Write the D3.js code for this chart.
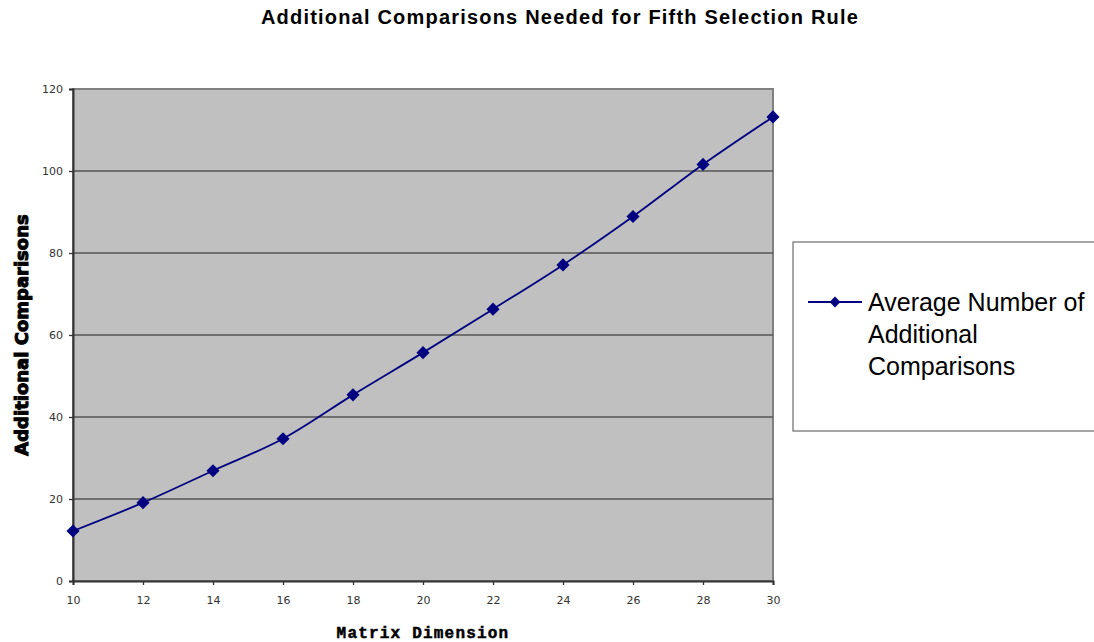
<!DOCTYPE html>
<html>
<head>
<meta charset="utf-8">
<script src="https://cdn.jsdelivr.net/npm/d3@7"></script>
<style>
  html, body { margin: 0; padding: 0; background: #fff; }
  svg { display: block; }
</style>
</head>
<body>
<svg id="chart" width="1094" height="642"></svg>
<script>
// Matrix dimension on x, average number of extra comparisons on y
const dimensions = [10, 12, 14, 16, 18, 20, 22, 24, 26, 28, 30];
const avgComparisons = [12.2, 19.1, 26.9, 34.7, 45.4, 55.7, 66.3, 77.1, 88.9, 101.6, 113.2];
const xTicks = [10, 12, 14, 16, 18, 20, 22, 24, 26, 28, 30];
const yTicks = [0, 20, 40, 60, 80, 100, 120];
const seriesName = ["Average Number of", "Additional", "Comparisons"];

const svg = d3.select("#chart");
const plot = { left: 73, right: 773, top: 89, bottom: 581 };

const x = d3.scaleLinear().domain([10, 30]).range([plot.left, plot.right]);
const y = d3.scaleLinear().domain([0, 120]).range([plot.bottom, plot.top]);

// Title
svg.append("text")
  .attr("x", 560).attr("y", 24)
  .attr("text-anchor", "middle")
  .style("font-family", "Liberation Sans, Arial, sans-serif")
  .style("font-weight", "bold")
  .style("font-size", "20px")
  .style("letter-spacing", "1.2px")
  .text("Additional Comparisons Needed for Fifth Selection Rule");

// Plot background
svg.append("rect")
  .attr("x", plot.left).attr("y", plot.top)
  .attr("width", plot.right - plot.left).attr("height", plot.bottom - plot.top)
  .attr("fill", "#c0c0c0")
  .attr("stroke", "#808080").attr("stroke-width", 2);

// Horizontal gridlines
svg.append("g").selectAll("line")
  .data(yTicks.filter(v => v > 0 && v < 120))
  .join("line")
  .attr("x1", plot.left).attr("x2", plot.right)
  .attr("y1", d => y(d)).attr("y2", d => y(d))
  .attr("stroke", "#555").attr("stroke-width", 1.3);

// Axes
const yAxis = svg.append("g")
  .attr("transform", `translate(${plot.left},0)`)
  .call(d3.axisLeft(y).tickValues(yTicks).tickSize(4).tickPadding(6));
const xAxis = svg.append("g")
  .attr("transform", `translate(0,${plot.bottom})`)
  .call(d3.axisBottom(x).tickValues(xTicks).tickSize(4).tickPadding(11));

[yAxis, xAxis].forEach(g => {
  g.select(".domain").attr("stroke", "#333").attr("stroke-width", 2);
  g.selectAll(".tick line").attr("stroke", "#333").attr("stroke-width", 1.3);
  g.selectAll(".tick text")
    .attr("fill", "#333")
    .style("font-family", "DejaVu Sans, sans-serif")
    .style("font-size", "11px");
});

// Series line (smoothed) and diamond markers
const line = d3.line()
  .x((d, i) => x(dimensions[i]))
  .y(d => y(d))
  .curve(d3.curveCatmullRom.alpha(0.5));

svg.append("path")
  .datum(avgComparisons)
  .attr("d", line)
  .attr("fill", "none")
  .attr("stroke", "#000080")
  .attr("stroke-width", 1.8);

const diamond = d3.symbol().type(d3.symbolDiamond2).size(110);
svg.append("g").selectAll("path")
  .data(avgComparisons)
  .join("path")
  .attr("d", diamond)
  .attr("transform", (d, i) => `translate(${x(dimensions[i])},${y(d)})`)
  .attr("fill", "#000080");

// Axis titles
svg.append("text")
  .attr("transform", "translate(28,335) rotate(-90)")
  .attr("text-anchor", "middle")
  .style("font-family", "DejaVu Sans, sans-serif")
  .style("font-weight", "bold")
  .style("font-size", "18px")
  .attr("stroke", "#000").attr("stroke-width", 1)
  .text("Additional Comparisons");

svg.append("text")
  .attr("x", 423).attr("y", 638)
  .attr("text-anchor", "middle")
  .style("font-family", "Liberation Mono, Courier New, monospace")
  .style("font-weight", "bold")
  .style("font-size", "16px")
  .style("letter-spacing", "1.2px")
  .attr("stroke", "#000").attr("stroke-width", 0.5)
  .text("Matrix Dimension");

// Legend
const legend = svg.append("g");
legend.append("rect")
  .attr("x", 793).attr("y", 242)
  .attr("width", 320).attr("height", 189)
  .attr("fill", "#fff")
  .attr("stroke", "#777").attr("stroke-width", 1.3);
legend.append("line")
  .attr("x1", 808).attr("x2", 862)
  .attr("y1", 302).attr("y2", 302)
  .attr("stroke", "#000080").attr("stroke-width", 1.8);
legend.append("path")
  .attr("d", d3.symbol().type(d3.symbolDiamond2).size(75))
  .attr("transform", "translate(835,302)")
  .attr("fill", "#000080");
legend.append("text")
  .attr("x", 868).attr("y", 311)
  .style("font-family", "Liberation Sans, Arial, sans-serif")
  .style("font-size", "25px")
  .selectAll("tspan")
  .data(seriesName)
  .join("tspan")
  .attr("x", 868)
  .attr("dy", (d, i) => i === 0 ? 0 : 32)
  .text(d => d);
</script>
</body>
</html>
